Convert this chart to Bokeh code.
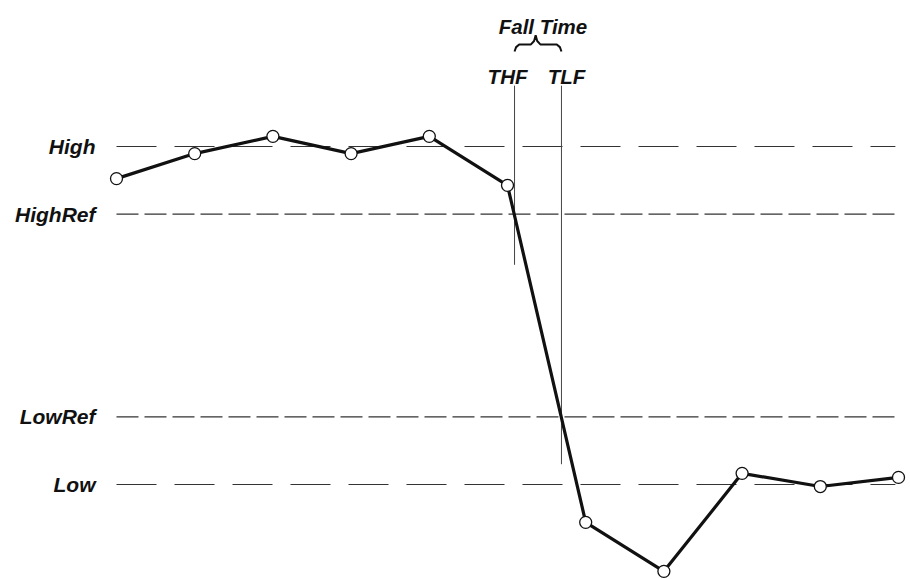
from bokeh.plotting import figure
from bokeh.models import Range1d, ColumnDataSource
from bokeh.core.properties import value
from bokeh.embed import file_html
from bokeh.resources import INLINE

# ---- data ----
sample_index = [0, 1, 2, 3, 4, 5, 6, 7, 8, 9, 10]
sample_value = [0.905, 0.979, 1.030, 0.979, 1.030, 0.885, -0.112, -0.257, 0.033, -0.006, 0.021]
level_names = ["High", "HighRef", "LowRef", "Low"]
level_values = [1.0, 0.8, 0.2, 0.0]
edge_names = ["THF", "TLF"]
edge_times = [5.09, 5.69]
edge_line_bottoms = [0.65, 0.06]
annotation_title = "Fall Time"

# ---- layout / style ----
FONT = value("Liberation Sans")
W, H = 910, 579
px_per_x = 78.2
x_start = -116 / px_per_x
x_end = x_start + W / px_per_x
px_per_y = 338.0
y_end = 1 + 146 / px_per_y
y_start = y_end - H / px_per_y

p = figure(width=W, height=H, output_backend="svg", toolbar_location=None,
           x_range=Range1d(x_start, x_end), y_range=Range1d(y_start, y_end),
           x_axis_location=None, y_axis_location=None, min_border=0)
p.grid.visible = False
p.outline_line_color = None
p.background_fill_color = "white"
p.border_fill_color = "white"

line_x0 = sample_index[0]
line_x1 = sample_index[-1] - 0.04
dash_styles = {"High": "40 18", "Low": "40 18", "HighRef": "22 6", "LowRef": "22 6"}
for name, lv in zip(level_names, level_values):
    p.line([line_x0, line_x1], [lv, lv], line_color="#333333", line_width=1.1,
           line_dash=dash_styles[name])

# level labels
p.text(x=[x_start + 95 / px_per_x] * len(level_names), y=level_values, text=level_names,
       text_font=FONT, text_font_style="bold italic", text_font_size="21px",
       text_align="right", text_baseline="middle", text_color="#111111")

# vertical edge lines
top_y = 1.18
for t, b in zip(edge_times, edge_line_bottoms):
    p.line([t, t], [top_y, b], line_color="#444444", line_width=1)

# edge labels
label_y = 1.207
offsets = [-7, 5]
for name, t, off in zip(edge_names, edge_times, offsets):
    p.text(x=[t], y=[label_y], text=[name], x_offset=off,
           text_font=FONT, text_font_style="bold italic", text_font_size="20.5px",
           text_align="center", text_baseline="alphabetic", text_color="#111111")

# brace
a, b = edge_times
xm = (a + b) / 2 - 0.03
y_end_b, y_mid_b, y_peak_b = 1.281, 1.302, 1.329
bx = [a, a + 0.02, a + 0.06, xm - 0.06, xm - 0.02, xm, xm + 0.02, xm + 0.06, b - 0.06, b - 0.02, b]
by = [y_end_b, y_mid_b - 0.008, y_mid_b, y_mid_b, y_mid_b + 0.01, y_peak_b, y_mid_b + 0.01, y_mid_b, y_mid_b, y_mid_b - 0.008, y_end_b]
p.line(bx, by, line_color="#111111", line_width=2)

p.text(x=[(a + b) / 2], y=[1.355], text=[annotation_title], x_offset=5,
       text_font=FONT, text_font_style="bold italic", text_font_size="20.5px",
       text_align="center", text_baseline="alphabetic", text_color="#111111")

# waveform
src = ColumnDataSource(dict(x=sample_index, y=sample_value))
p.line("x", "y", source=src, line_color="#111111", line_width=3.2, line_join="round")
p.scatter("x", "y", source=src, size=12, fill_color="white", line_color="#111111", line_width=1.3)

open("out.html", "w").write(file_html(p, INLINE))
